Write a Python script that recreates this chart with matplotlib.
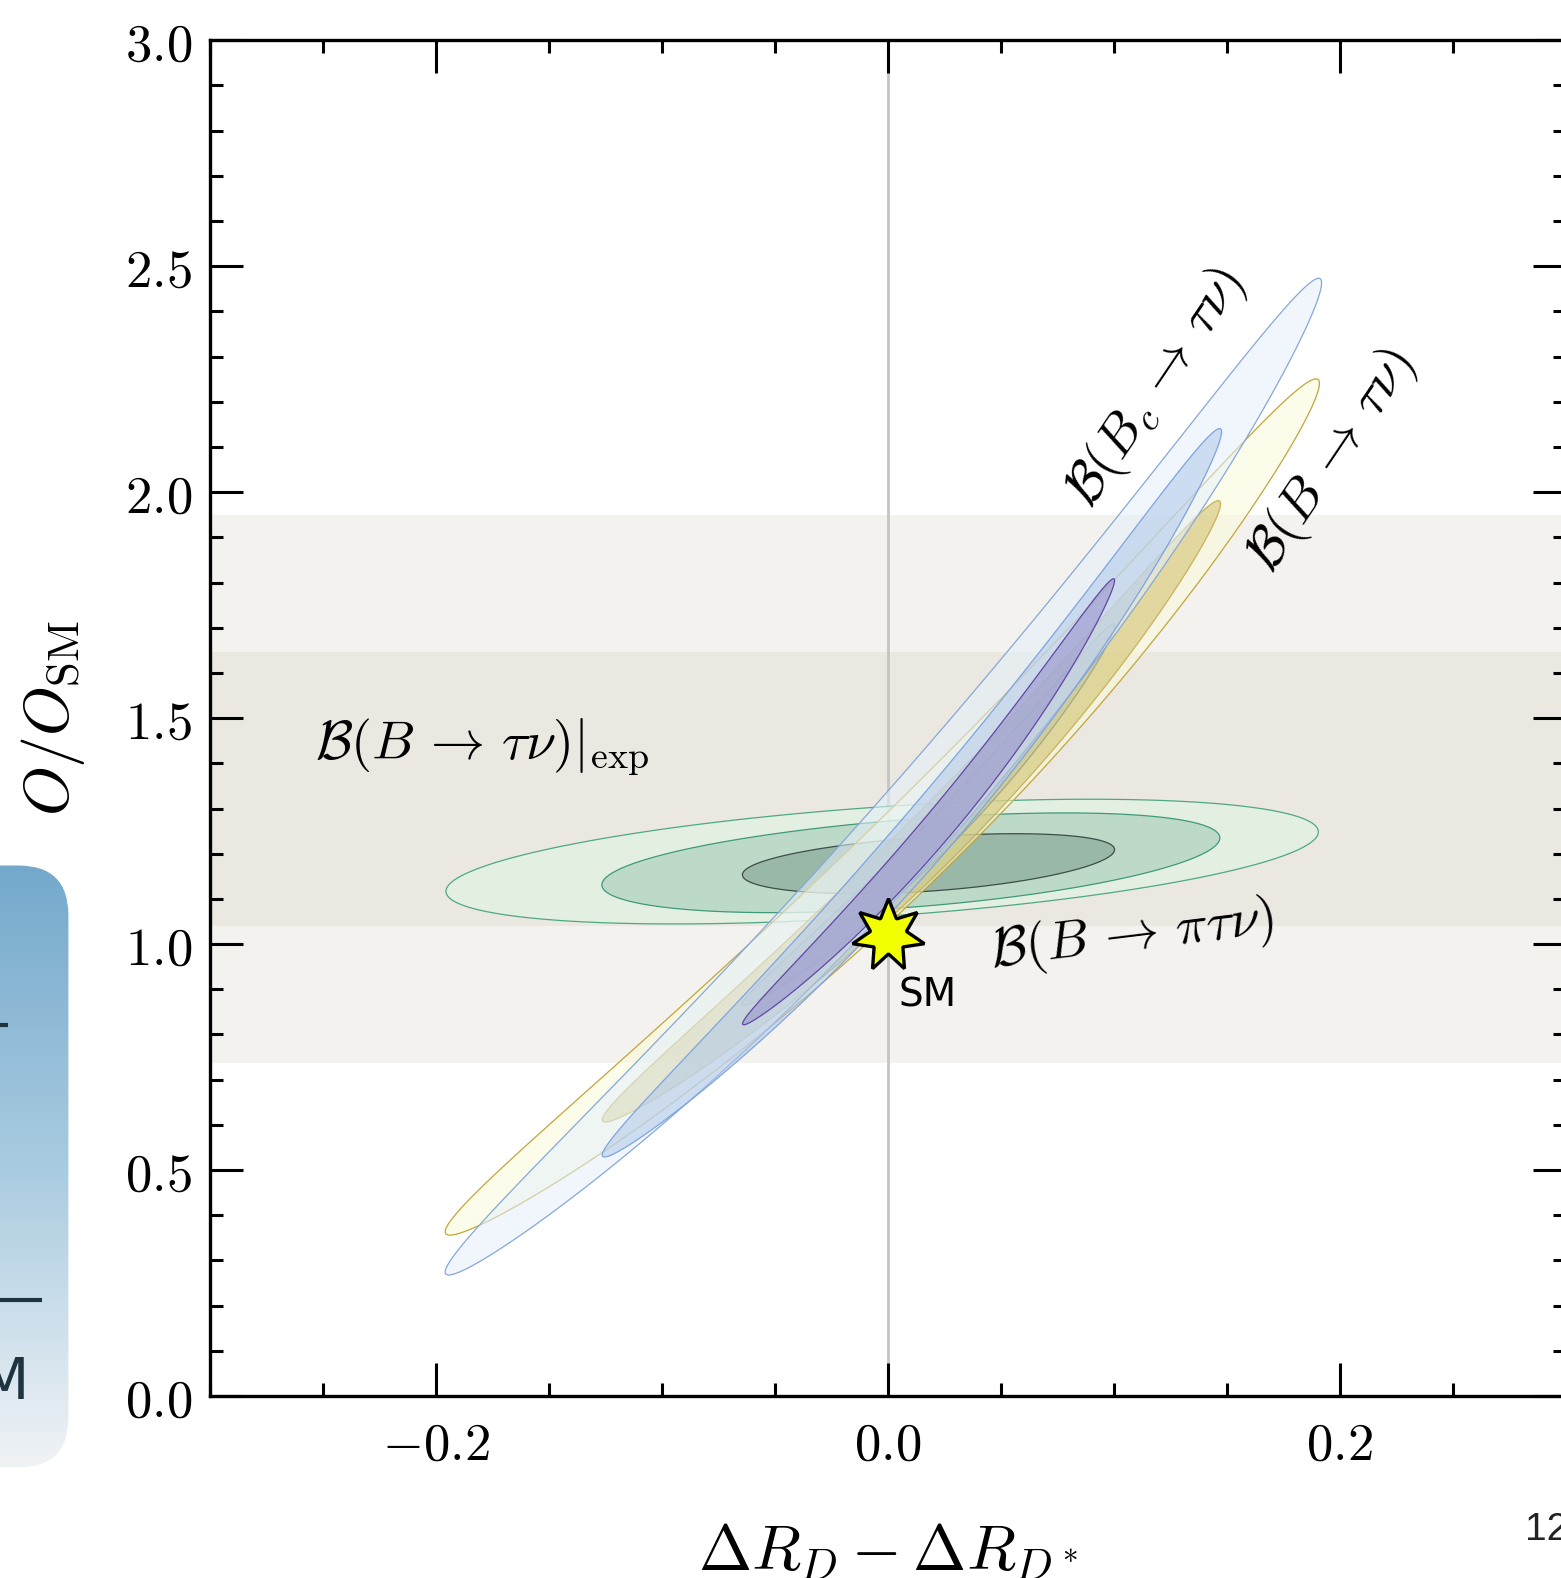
import numpy as np
import matplotlib
matplotlib.use('Agg')
import matplotlib.pyplot as plt
from matplotlib.patches import Polygon, FancyBboxPatch
from matplotlib.colors import LinearSegmentedColormap

plt.rcParams['mathtext.fontset'] = 'cm'
plt.rcParams['font.family'] = ['DejaVu Sans']

# ---------------- data ----------------
x_major = [-0.2, 0.0, 0.2]
x_labels = [r'$-0.2$', r'$0.0$', r'$0.2$']
y_major = [0.0, 0.5, 1.0, 1.5, 2.0, 2.5, 3.0]
y_labels = [r'$%.1f$' % v for v in y_major]

# experimental band B(B->tau nu)|exp : 2 sigma (outer) and 1 sigma (inner)
band_lo = [0.737, 1.040]
band_hi = [1.949, 1.646]

# allowed regions: tips (x1, y1, x2, y2), half thickness, bend (y units)
green_tips = [(-0.1955, 1.1158, 0.1906, 1.2494),
              (-0.1265, 1.1300, 0.1470, 1.2360),
              (-0.0643, 1.1528, 0.1004, 1.2096)]
green_B = [0.121, 0.097, 0.060]
green_k = [0.0, 0.004, 0.004]

yellow_tips = [(-0.1955, 0.3586, 0.1906, 2.249),
               (-0.1261, 0.6080, 0.1470, 1.980),
               (-0.0643, 0.8650, 0.1004, 1.708)]
yellow_B = [0.090, 0.062, 0.036]
yellow_k = [0.107, 0.076, 0.047]

blue_tips = [(-0.1955, 0.2695, 0.1915, 2.472),
             (-0.1261, 0.5300, 0.1474, 2.140),
             (-0.0641, 0.8220, 0.1002, 1.808)]
blue_B = [0.087, 0.060, 0.034]
blue_k = [0.116, 0.082, 0.051]

sm_point = (0.0, 1.02)

ISO = 5.0  # 0.2 in x spans the same length as 1.0 in y


def region(tip, B, k, n=600):
    x1, y1, x2, y2 = tip
    u1, u2 = x1 * ISO, x2 * ISO
    cu, cv = (u1 + u2) / 2, (y1 + y2) / 2
    du, dv = u2 - u1, y2 - y1
    A = np.hypot(du, dv) / 2
    th = np.arctan2(dv, du)
    phi = np.linspace(0, 2 * np.pi, n)
    s = A * np.cos(phi)
    t = B * np.sin(phi) - k * (1 - (s / A) ** 2)
    u = cu + s * np.cos(th) - t * np.sin(th)
    v = cv + s * np.sin(th) + t * np.cos(th)
    return np.column_stack([u / ISO, v])


W, H = 1561, 1578
fig = plt.figure(figsize=(W / 100, H / 100), dpi=100)
fig.patch.set_facecolor('white')

ax = fig.add_axes([209.9 / W, 182 / H, 1355.6 / W, 1355.7 / H])
ax.set_xlim(-0.3, 0.3)
ax.set_ylim(0.0, 3.0)

# bands
ax.axhspan(band_lo[0], band_hi[0], color='#f4f2ee', lw=0, zorder=0.5)
ax.axhspan(band_lo[1], band_hi[1], color='#ebe8e1', lw=0, zorder=0.6)

ax.axvline(0.0, color='#c4c4c4', lw=2.0, zorder=1)

green_sty = [('#def6e2', '#4fa884'), ('#9fc8b3', '#3e9a7a'), ('#7e9e8e', '#3d4d47')]
yellow_sty = [('#fbfbdb', '#c2a53a'), ('#d0bf68', '#c9b25a'), ('#b0b088', '#a0a88c')]
blue_sty = [('#e4f0fb', '#86a8d8'), ('#b0c8e9', '#7ea4e0'), ('#8a80c4', '#6446a4')]
alphas_g = [0.55, 0.55, 0.55]
alphas_y = [0.55, 0.55, 0.25]
alphas_b = [0.55, 0.55, 0.45]

z = 2
for tips, Bs, ks, sty, als in [(green_tips, green_B, green_k, green_sty, alphas_g),
                               (yellow_tips, yellow_B, yellow_k, yellow_sty, alphas_y),
                               (blue_tips, blue_B, blue_k, blue_sty, alphas_b)]:
    for tip, B, k, (fc, ec), a in zip(tips, Bs, ks, sty, als):
        pts = region(tip, B, k)
        ax.add_patch(Polygon(pts, closed=True, facecolor=fc, alpha=a, lw=0, zorder=z))
        ax.add_patch(Polygon(pts, closed=True, fill=False, edgecolor=ec, lw=0.9, zorder=z + 0.1))
        z += 0.2

ax.plot([sm_point[0]], [sm_point[1]], marker=(7, 1, 0), ms=53, mfc='#f2ff00',
        mec='black', mew=2.4, zorder=10, linestyle='none')
ax.text(0.005, 0.861, 'SM', fontsize=28, family='DejaVu Sans', color='black',
        ha='left', va='baseline', zorder=11)

fs = 39
ax.text(-0.2535, 1.4076, r'$\mathcal{B}(B\,\rightarrow\,\tau\nu)|_{\mathrm{exp}}$', fontsize=fs,
        ha='left', va='baseline', zorder=11)
ax.text(0.046, 0.947, r'$\mathcal{B}(B\,\rightarrow\,\pi\tau\nu)$', fontsize=fs, rotation=7,
        rotation_mode='anchor', ha='left', va='baseline', zorder=11)
ax.text(0.090, 1.962, r'$\mathcal{B}(B_c\,\rightarrow\,\tau\nu)$', fontsize=fs, rotation=56,
        rotation_mode='anchor', ha='left', va='baseline', zorder=11)
ax.text(0.170, 1.818, r'$\mathcal{B}(B\,\rightarrow\,\tau\nu)$', fontsize=fs, rotation=56,
        rotation_mode='anchor', ha='left', va='baseline', zorder=11)

# ticks
ax.set_xticks(x_major)
ax.set_xticklabels(x_labels)
ax.set_xticks(np.arange(-0.3, 0.301, 0.05), minor=True)
ax.set_yticks(y_major)
ax.set_yticklabels(y_labels)
ax.set_yticks(np.arange(0, 3.001, 0.1), minor=True)
ax.tick_params(which='both', direction='in', top=True, right=True, width=2.2, color='black')
ax.tick_params(which='major', length=23.5)
ax.tick_params(which='minor', length=9.5)
ax.tick_params(axis='both', labelsize=38)
ax.tick_params(axis='x', pad=16)
ax.tick_params(axis='y', pad=13)
for sp in ax.spines.values():
    sp.set_linewidth(2.4)

ax.set_xlabel(r'$\Delta R_D - \Delta R_{D^*}$', fontsize=46)
ax.xaxis.label.set_va('baseline')
ax.xaxis.set_label_coords(0.5, -0.1283)
ax.set_ylabel(r'$O/O_{\mathrm{SM}}$', fontsize=46)
ax.yaxis.label.set_va('baseline')
ax.yaxis.set_label_coords(-0.104, 0.5)

# ---------- decoration of neighbouring slide element ----------
ov = fig.add_axes([0, 0, 1, 1], zorder=-1)
ov.set_xlim(0, W)
ov.set_ylim(H, 0)
ov.axis('off')
cmap = LinearSegmentedColormap.from_list('g', ['#74a9cc', '#a9cbe0', '#f0f3f6'])
grad = np.linspace(0, 1, 256).reshape(-1, 1)
im = ov.imshow(grad, extent=(-80, 68.4, 1467.4, 865.5), cmap=cmap, aspect='auto', zorder=1)
box = FancyBboxPatch((-80, 865.5), 148.4, 601.9, boxstyle='round,pad=0,rounding_size=50',
                     transform=ov.transData, facecolor='none', edgecolor='none')
ov.add_patch(box)
im.set_clip_path(box)
ov.plot([0, 8], [1024.6, 1024.6], color='#1e3440', lw=3, solid_capstyle='butt', zorder=2)
ov.plot([0, 42.3], [1300.3, 1300.3], color='#1e3440', lw=3, solid_capstyle='butt', zorder=2)
ov.text(30, 1399, 'SM', fontsize=41, family='DejaVu Sans', color='#1e3440',
        ha='right', va='baseline', zorder=3)
ov.text(1525, 1540, '12', fontsize=28, family='Liberation Sans', color='#222222',
        ha='left', va='baseline', zorder=3)

fig.savefig('out.png', dpi=100, facecolor='white')
